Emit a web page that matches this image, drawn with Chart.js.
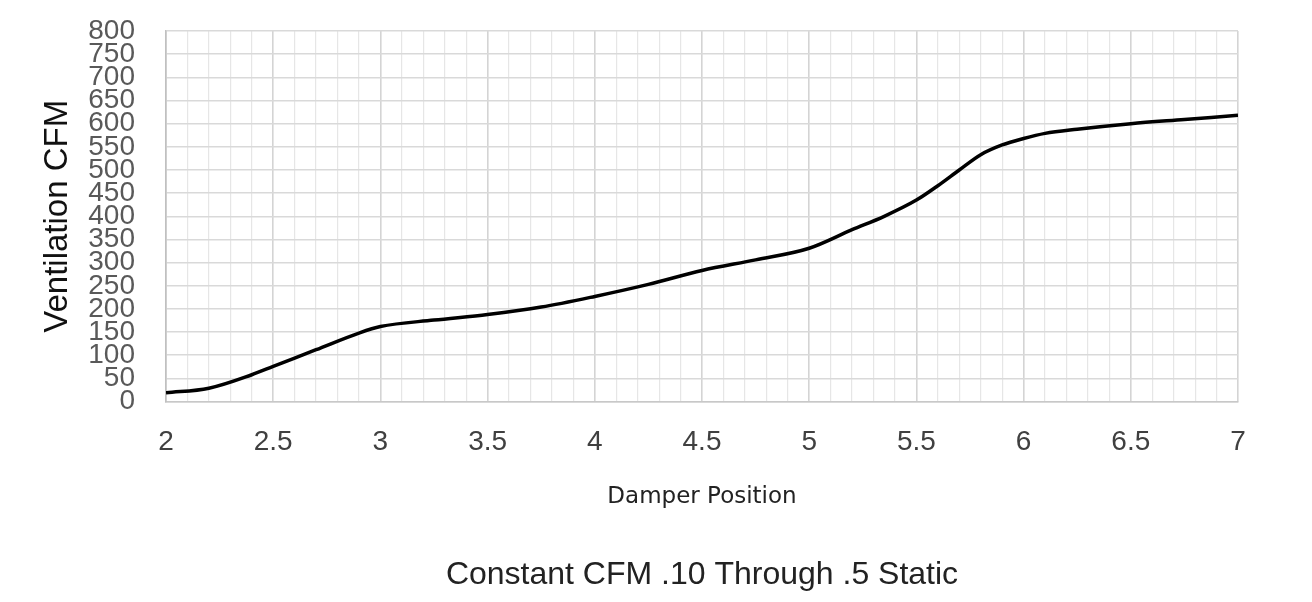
<!DOCTYPE html>
<html>
<head>
<meta charset="utf-8">
<script src="https://cdn.jsdelivr.net/npm/chart.js@4"></script>
<style>
  html, body { margin: 0; padding: 0; background: #fff; }
  #wrap { width: 1312px; height: 602px; }
</style>
</head>
<body>
<div id="wrap"><canvas id="cfmChart" width="1312" height="602"></canvas></div>
<script>
// === DATA ===
const damperPositions = [2, 2.2, 2.4, 2.5, 2.7, 2.9, 3, 3.25, 3.5, 3.75, 4, 4.25, 4.5, 4.75, 5, 5.2, 5.35, 5.5, 5.6, 5.7, 5.8, 5.9, 6, 6.1, 6.25, 6.5, 6.75, 7];
const ventilationCfm = [19, 29, 58, 76, 112, 148, 162, 176, 188, 204, 227, 253, 283, 306, 331, 371, 400, 435, 466, 500, 533, 554, 568, 579, 588, 600, 609, 618];
const yTickLabels = [0, 50, 100, 150, 200, 250, 300, 350, 400, 450, 500, 550, 600, 650, 700, 750, 800];
const xTickLabels = [2, 2.5, 3, 3.5, 4, 4.5, 5, 5.5, 6, 6.5, 7];

const chartTitle = "Constant CFM .10 Through .5 Static";
const xTitle = "Damper Position";
const yTitle = "Ventilation CFM";

const FONT = "'Liberation Sans', Arial, sans-serif";

// minor vertical grid every 0.1
const xGridTenths = [];
for (let t = 20; t <= 70; t++) xGridTenths.push(t / 10);

const isMajorX = v => Math.round(v * 10) % 5 === 0;

// === CHART ===
const ctx = document.getElementById("cfmChart").getContext("2d");

new Chart(ctx, {
    type: "line",
    data: {
        datasets: [{
            label: yTitle,
            data: damperPositions.map((x, i) => ({ x: x, y: ventilationCfm[i] })),
            borderColor: "#000000",
            borderWidth: 3.5,
            pointRadius: 0,
            fill: false,
            cubicInterpolationMode: "monotone"
        }]
    },
    options: {
        responsive: false,
        animation: false,
        devicePixelRatio: 1,
        layout: { padding: { top: 31, right: 74, left: 0, bottom: 0 } },
        plugins: {
            legend: { display: false },
            tooltip: { enabled: false },
            title: {
                display: true,
                text: chartTitle,
                position: "bottom",
                fullSize: false,
                color: "#222222",
                font: { family: FONT, size: 32, weight: "normal" },
                padding: { top: 0, bottom: 8 }
            }
        },
        scales: {
            x: {
                type: "linear",
                min: 2,
                max: 7,
                afterBuildTicks: scale => {
                    scale.ticks = xGridTenths.map(v => ({ value: v }));
                },
                afterFit: scale => { scale.height = 154; },
                grid: {
                    drawTicks: false,
                    color: c => isMajorX(c.tick.value) ? "#d4d4d4" : "#e6e6e6",
                    lineWidth: c => isMajorX(c.tick.value) ? 1.6 : 1.2
                },
                border: { display: true, color: "#c8c8c8", width: 1.6 },
                ticks: {
                    autoSkip: false,
                    maxRotation: 0,
                    padding: 24,
                    color: "#404040",
                    font: { family: FONT, size: 28 },
                    callback: v => {
                        const hit = xTickLabels.find(t => Math.abs(t - v) < 1e-6);
                        return hit === undefined ? "" : String(hit);
                    }
                },
                title: {
                    display: true,
                    text: xTitle,
                    color: "#222222",
                    font: { family: "'DejaVu Sans', sans-serif", size: 23 },
                    padding: { top: 0, bottom: 45 }
                }
            },
            y: {
                min: 0,
                max: 800,
                afterBuildTicks: scale => {
                    scale.ticks = yTickLabels.map(v => ({ value: v }));
                },
                afterFit: scale => { scale.width = 166; },
                grid: {
                    drawTicks: true,
                    tickLength: 31,
                    tickColor: "rgba(0,0,0,0)",
                    color: "#d9d9d9",
                    lineWidth: 1.6
                },
                border: { display: true, color: "#c0c0c0", width: 1.6 },
                ticks: {
                    autoSkip: false,
                    padding: 0,
                    color: "#595959",
                    font: { family: FONT, size: 28, lineHeight: 0.85 }
                },
                title: {
                    display: true,
                    text: yTitle,
                    color: "#111111",
                    font: { family: FONT, size: 33 },
                    padding: { top: 38, bottom: 0 }
                }
            }
        }
    }
});
</script>
</body>
</html>
